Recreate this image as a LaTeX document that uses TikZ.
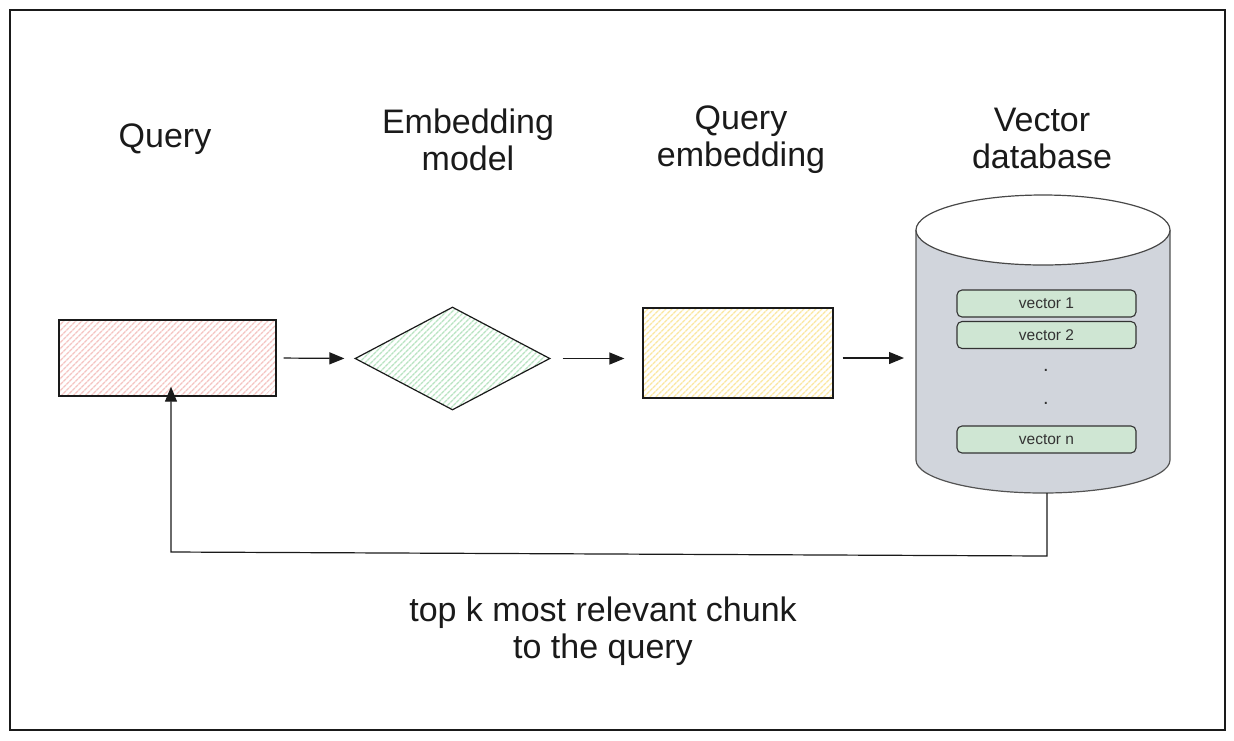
\documentclass[tikz,border=0pt]{standalone}
\usepackage{fontspec}
\setmainfont{Liberation Sans}
\usetikzlibrary{arrows.meta,shapes.geometric,patterns.meta}
\definecolor{ink}{HTML}{1A1A1A}
\definecolor{pinkh}{HTML}{F5C4C2}
\definecolor{greenh}{HTML}{B9E4C2}
\definecolor{yellowh}{HTML}{FBE7A0}
\definecolor{dbgray}{HTML}{D1D5DC}
\definecolor{vecfill}{HTML}{CFE6D3}
\definecolor{vecink}{HTML}{333333}
\tikzset{
  lbl/.style={font=\fontsize{34}{37}\selectfont, text=ink, align=center},
  box/.style={draw=ink, line width=1.2pt, inner sep=0pt},
  hatch/.style={pattern={Lines[angle=45,distance=4pt,line width=1.4pt]}, pattern color=#1},
  arr/.style={draw=ink, line width=1.2pt, -{Triangle[length=15pt,width=12pt]}},
  vec/.style={draw=vecink, line width=1.1pt, rounded corners=5pt, fill=vecfill, minimum width=179pt, minimum height=27pt, inner sep=0pt, font=\fontsize{15.5}{17}\selectfont, text=vecink},
  dotlbl/.style={font=\fontsize{20}{20}\selectfont, text=vecink, anchor=base, inner sep=0pt}
}
\begin{document}
\begin{tikzpicture}[x=1pt,y=-1pt]
\useasboundingbox (0,0) rectangle (1234,740);
\draw[ink, line width=2pt] (10,10) rectangle (1225,730);

% labels
\node[lbl] (tq) at (165,139) {Query};
\node[lbl] (tem) at (468,140) {Embedding\\model};
\node[lbl] (tqe) at (741,140) {Query\\embedding};
\node[lbl] (tvd) at (1042,138) {Vector\\database};
\node[lbl] (tk) at (603,631) {top k most relevant chunk\\to the query};

% shapes
\node[box, hatch=pinkh, minimum width=217pt, minimum height=76pt] (q) at (167.5,358) {};
\node[box, diamond, hatch=greenh, minimum width=195pt, minimum height=103pt] (emb) at (452.5,358.5) {};
\node[box, hatch=yellowh, minimum width=190pt, minimum height=90pt] (qe) at (738,353) {};

% cylinder
\filldraw[fill=dbgray, draw=ink!75, line width=1.2pt]
  (916,230) -- (916,460) arc[start angle=180, end angle=360, x radius=127pt, y radius=33pt] -- (1170,230);
\draw[fill=white, draw=ink!80, line width=1.2pt] (1043,230) ellipse [x radius=127pt, y radius=35pt];
\coordinate (dbleft) at (916,358);
\coordinate (dbbot) at (1047,493);
\coordinate (c1) at (1047,556);
\coordinate (c2) at (171,552);

\node[vec] (v1) at (1046.5,303.5) {vector 1};
\node[vec] (v2) at (1046.5,335) {vector 2};
\node[vec] (vn) at (1046.5,439.5) {vector n};
\node[dotlbl] (d1) at (1046,371) {.};
\node[dotlbl] (d2) at (1046,404) {.};

% connectors
\draw[arr, shorten <=7pt, shorten >=10pt] (q.east) -- (emb.west);
\draw[arr, shorten <=12pt, shorten >=18pt] (emb.east) -- (qe.west |- emb.east);
\draw[arr, shorten <=9pt, shorten >=12pt] (qe.east |- dbleft) -- (dbleft);
\draw[arr] (dbbot) -- (c1) -- (c2) -- ([yshift=10pt]q.south -| c2);
\end{tikzpicture}
\end{document}
